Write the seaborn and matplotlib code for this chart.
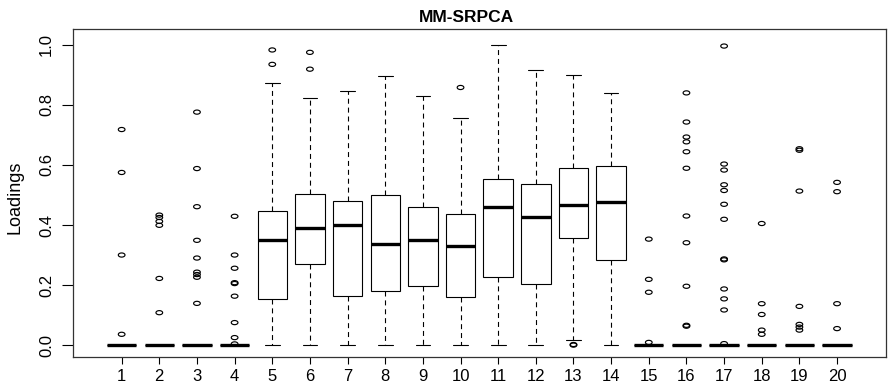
import numpy as np
import pandas as pd
import matplotlib
matplotlib.use("Agg")
import matplotlib.pyplot as plt
import matplotlib.path as mpath
import seaborn as sns

# ---- data ----
groups = [str(i) for i in range(1, 21)]
whisker_low = [0, 0, 0, 0, 0, 0, 0, 0, 0, 0, 0, 0, 0.0165, 0, 0, 0, 0, 0, 0, 0]
q1 = [0, 0, 0, 0, 0.153, 0.271, 0.163, 0.179, 0.198, 0.159, 0.228, 0.202, 0.356, 0.283, 0, 0, 0, 0, 0, 0]
median = [0, 0, 0, 0, 0.350, 0.390, 0.400, 0.337, 0.351, 0.330, 0.460, 0.427, 0.468, 0.477, 0, 0, 0, 0, 0, 0]
q3 = [0, 0, 0, 0, 0.447, 0.503, 0.479, 0.499, 0.460, 0.438, 0.553, 0.537, 0.590, 0.595, 0, 0, 0, 0, 0, 0]
whisker_high = [0, 0, 0, 0, 0.874, 0.822, 0.845, 0.895, 0.829, 0.756, 1.000, 0.915, 0.899, 0.840, 0, 0, 0, 0, 0, 0]
outliers = [
    [0.718, 0.575, 0.300, 0.036],
    [0.433, 0.425, 0.412, 0.399, 0.222, 0.108],
    [0.776, 0.588, 0.461, 0.349, 0.290, 0.243, 0.235, 0.226, 0.139],
    [0.429, 0.300, 0.256, 0.208, 0.205, 0.163, 0.075, 0.025, 0.004],
    [0.983, 0.935],
    [0.975, 0.919],
    [],
    [],
    [],
    [0.858],
    [],
    [],
    [0.002, 0.0],
    [],
    [0.353, 0.219, 0.176, 0.009],
    [0.840, 0.743, 0.693, 0.677, 0.644, 0.589, 0.430, 0.341, 0.196, 0.066, 0.063],
    [0.996, 0.603, 0.583, 0.534, 0.515, 0.469, 0.419, 0.287, 0.284, 0.187, 0.154, 0.117, 0.005],
    [0.405, 0.138, 0.102, 0.050, 0.036],
    [0.654, 0.649, 0.513, 0.129, 0.069, 0.060, 0.050],
    [0.542, 0.511, 0.138, 0.055],
]
y_ticks = [0.0, 0.2, 0.4, 0.6, 0.8, 1.0]
y_ticklabels = ["0.0", "0.2", "0.4", "0.6", "0.8", "1.0"]
title = "MM-SRPCA"
ylabel = "Loadings"

# ---- tables ----
box_rows = []
for g, a, b, c, d, e in zip(groups, whisker_low, q1, median, q3, whisker_high):
    for v in (a, b, c, d, e):
        box_rows.append((g, v))
box_df = pd.DataFrame(box_rows, columns=["group", "value"])
out_rows = [(g, v) for g, vals in zip(groups, outliers) for v in vals]
out_df = pd.DataFrame(out_rows, columns=["group", "value"])

# ---- style ----
sns.set_style("ticks")
plt.rcParams["font.family"] = ["Liberation Sans", "DejaVu Sans"]
plt.rcParams["text.color"] = "black"
plt.rcParams["axes.labelcolor"] = "black"
plt.rcParams["xtick.color"] = "black"
plt.rcParams["ytick.color"] = "black"
plt.rcParams["xtick.labelcolor"] = "black"
plt.rcParams["ytick.labelcolor"] = "black"

fig = plt.figure(figsize=(8.88, 3.91), dpi=100)
ax = fig.add_axes([72.7 / 888, 1 - 356.7 / 391, (886 - 72.7) / 888, (356.7 - 29.3) / 391])

sns.boxplot(
    data=box_df, x="group", y="value", order=groups, ax=ax,
    color="white", linecolor="black", linewidth=0.8, width=0.78,
    whis=1.5, showfliers=False,
    medianprops=dict(linewidth=2.4, color="black", solid_capstyle="butt"),
    whiskerprops=dict(linestyle=(0, (4.5, 3.5)), linewidth=0.8, color="black"),
    capprops=dict(linewidth=0.8, color="black"),
    boxprops=dict(edgecolor="black", facecolor="white", linewidth=0.8),
)

# elliptical open-circle marker (R pch=1 as it appears in the reference)
t = np.linspace(0, 2 * np.pi, 60)
ellipse = mpath.Path(np.column_stack([np.cos(t), 0.62 * np.sin(t)]), closed=True)

n_before = len(ax.collections)
sns.stripplot(
    data=out_df, x="group", y="value", order=groups, ax=ax,
    jitter=False, size=4.8, marker=ellipse, color="black",
    edgecolor="black", linewidth=0.85,
)
for coll in ax.collections[n_before:]:
    coll.set_facecolor("none")
    coll.set_edgecolor("black")
    coll.set_linewidth(0.85)

ax.set_xlim(-1.3, 20.3)
ax.set_ylim(-0.0386, 1.0518)
ax.set_yticks(y_ticks)
ax.set_yticklabels(y_ticklabels, rotation=90, va="center", fontsize=12, color="black")
ax.tick_params(axis="x", length=4.8, width=0.8, pad=4, labelsize=12, color="black", labelcolor="black")
ax.tick_params(axis="y", length=7.9, width=0.8, pad=5.5, color="black", labelcolor="black")

ax.set_xlabel("")
ax.set_ylabel(ylabel, fontsize=13, color="black")
ax.yaxis.set_label_coords(-0.0607, 0.487)
ax.set_title(title, fontsize=12.5, fontweight="bold", x=0.484, pad=5.5, color="black")

for sp in ax.spines.values():
    sp.set_visible(True)
    sp.set_color("#333333")
    sp.set_linewidth(0.9)

fig.savefig("out.png", dpi=100)
